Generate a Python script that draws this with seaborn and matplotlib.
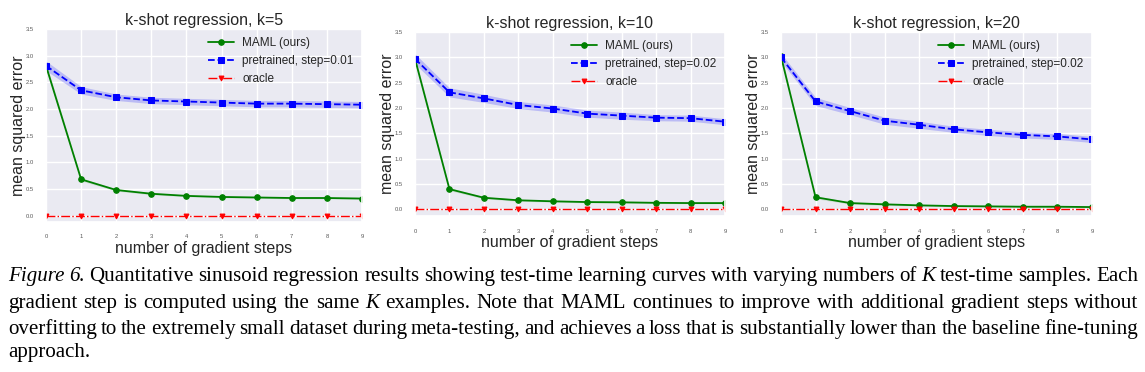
import numpy as np
import pandas as pd
import seaborn as sns
import matplotlib.pyplot as plt

steps = list(range(10))

titles = ["k-shot regression, k=5", "k-shot regression, k=10", "k-shot regression, k=20"]
pre_labels = ["pretrained, step=0.01", "pretrained, step=0.02", "pretrained, step=0.02"]

maml_k5 = [2.81, 0.68, 0.48, 0.41, 0.37, 0.35, 0.34, 0.33, 0.33, 0.32]
maml_k10 = [2.97, 0.40, 0.23, 0.18, 0.16, 0.145, 0.14, 0.13, 0.125, 0.125]
maml_k20 = [3.02, 0.24, 0.125, 0.10, 0.08, 0.066, 0.06, 0.053, 0.053, 0.046]

pre_k5 = [2.81, 2.35, 2.22, 2.16, 2.14, 2.12, 2.10, 2.10, 2.09, 2.08]
pre_k10 = [2.97, 2.31, 2.19, 2.06, 1.99, 1.89, 1.85, 1.81, 1.80, 1.73]
pre_k20 = [3.00, 2.13, 1.94, 1.75, 1.67, 1.58, 1.52, 1.47, 1.44, 1.38]

# half widths of the shaded bands
pre_err_k5 = [0.09, 0.07, 0.06, 0.06, 0.06, 0.06, 0.06, 0.06, 0.06, 0.06]
pre_err_k10 = [0.1, 0.09, 0.08, 0.07, 0.07, 0.07, 0.07, 0.06, 0.06, 0.06]
pre_err_k20 = [0.08, 0.08, 0.07, 0.07, 0.07, 0.06, 0.06, 0.06, 0.06, 0.06]
maml_err = [0.06, 0.03, 0.02, 0.02, 0.015, 0.015, 0.015, 0.015, 0.015, 0.015]

oracle = [0.0] * 10

caption_lines = [
    "Figure 6. Quantitative sinusoid regression results showing test-time learning curves with varying numbers of K test-time samples. Each",
    "gradient step is computed using the same K examples. Note that MAML continues to improve with additional gradient steps without",
    "overfitting to the extremely small dataset during meta-testing, and achieves a loss that is substantially lower than the baseline fine-tuning",
    "approach.",
]
italic_words = {"Figure", "6.", "K"}

sns.set_theme(style="darkgrid")
plt.rcParams["font.family"] = ["Liberation Sans", "DejaVu Sans"]
plt.rcParams["text.color"] = ".15"
plt.rcParams["axes.labelcolor"] = ".15"

W, H = 1145, 372
fig = plt.figure(figsize=(W / 100, H / 100), dpi=100)

# axes boxes in pixels: left, right, top, bottom
boxes = [(46, 362, 29, 222), (415, 725, 32, 216), (781, 1092, 32, 216)]
ylims = [(-0.12, 3.5), (-0.13, 3.5), (-0.13, 3.5)]

panels = [
    (maml_k5, pre_k5, pre_err_k5),
    (maml_k10, pre_k10, pre_err_k10),
    (maml_k20, pre_k20, pre_err_k20),
]

for i, (maml, pre, perr) in enumerate(panels):
    l, r, t, b = boxes[i]
    ax = fig.add_axes([l / W, 1 - b / H, (r - l) / W, (b - t) / H])
    df = pd.DataFrame({"step": steps, "maml": maml, "pre": pre, "oracle": oracle})

    ax.fill_between(steps, np.array(pre) - np.array(perr), np.array(pre) + np.array(perr),
                    color="#0000ff", alpha=0.2, lw=0)
    ax.fill_between(steps, np.array(maml) - np.array(maml_err), np.array(maml) + np.array(maml_err),
                    color="#008000", alpha=0.12, lw=0)

    sns.lineplot(data=df, x="step", y="maml", ax=ax, color="#008000", marker="o",
                 markersize=4, mec="#008000", lw=1.3, label="MAML (ours)")
    sns.lineplot(data=df, x="step", y="pre", ax=ax, color="#0000ff", marker="s",
                 markersize=5, mec="#0000ff", lw=1.3, linestyle="--", label=pre_labels[i])
    sns.lineplot(data=df, x="step", y="oracle", ax=ax, color="#ff0000", marker="v",
                 markersize=3.5, mec="#ff0000", lw=1.0, linestyle="-.", label="oracle")

    ax.set_xlim(0, 9)
    ax.set_ylim(*ylims[i])
    ax.set_xticks(steps)
    ax.set_yticks(np.arange(0, 3.51, 0.5))
    ax.set_yticklabels([f"{v:.1f}" for v in np.arange(0, 3.51, 0.5)])
    ax.tick_params(labelsize=4.2, pad=3, colors=".35")
    ax.set_title(titles[i], fontsize=11.5, pad=3)
    ax.set_xlabel("number of gradient steps", fontsize=11.5, labelpad=1)
    ax.set_ylabel("mean squared error", fontsize=11.5)
    ax.yaxis.set_label_coords(-0.064, 0.5)
    ax.legend(loc="upper right", frameon=False, fontsize=8.5, borderaxespad=0.3,
              handlelength=2.2, handletextpad=0.7)

# justified caption, word by word
renderer = fig.canvas.get_renderer()
baselines = [281, 308, 334, 357]
x0, x1 = 8, 1138
for line, yb in zip(caption_lines, baselines):
    words = line.split(" ")
    texts = []
    widths = []
    for w in words:
        style = "italic" if w in italic_words else "normal"
        t = fig.text(0, 1 - yb / H, w, fontsize=15.1, family="Liberation Serif",
                     style=style, va="baseline", ha="left", color="black")
        texts.append(t)
        widths.append(t.get_window_extent(renderer).width)
    if len(words) > 1 and line != caption_lines[-1]:
        gap = (x1 - x0 - sum(widths)) / (len(words) - 1)
    else:
        gap = 4.5
    x = x0
    for t, wd in zip(texts, widths):
        t.set_x(x / W)
        x += wd + gap

fig.savefig("out.png", dpi=100)
